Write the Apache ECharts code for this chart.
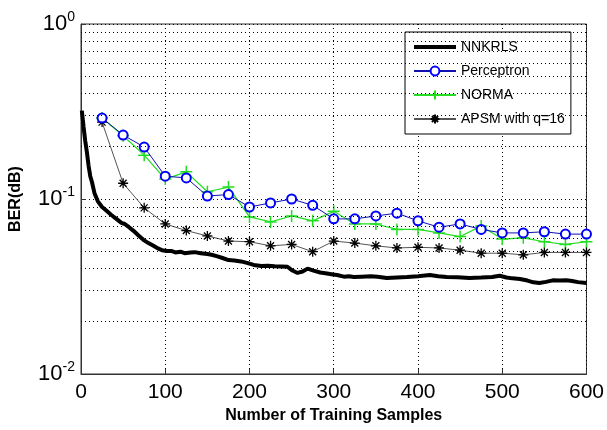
<!DOCTYPE html>
<html>
<head>
<meta charset="utf-8">
<script src="https://cdn.jsdelivr.net/npm/echarts@6/dist/echarts.min.js"></script>
<style>
  html, body { margin: 0; padding: 0; background: #fff; }
  #main { width: 607px; height: 430px; }
</style>
</head>
<body>
<div id="main"></div>
<script>
// training sizes where the marker curves were sampled
var sampleSizes = [25, 50, 75, 100, 125, 150, 175, 200, 225, 250, 275, 300,
  325, 350, 375, 400, 425, 450, 475, 500, 525, 550, 575, 600];

var perceptron = [0.290, 0.232, 0.198, 0.135, 0.132, 0.104, 0.106, 0.090, 0.095, 0.100, 0.092, 0.077,
  0.077, 0.080, 0.083, 0.075, 0.069, 0.072, 0.067, 0.064, 0.064, 0.065, 0.063, 0.063];

var norma = [0.290, 0.230, 0.178, 0.130, 0.143, 0.110, 0.117, 0.079, 0.074, 0.080, 0.075, 0.085,
  0.072, 0.072, 0.067, 0.067, 0.064, 0.061, 0.070, 0.059, 0.060, 0.057, 0.055, 0.057];

var apsm = [0.275, 0.123, 0.089, 0.072, 0.066, 0.0615, 0.0575, 0.057, 0.054, 0.055, 0.050, 0.0575,
  0.056, 0.054, 0.0525, 0.053, 0.0525, 0.051, 0.049, 0.049, 0.048, 0.0495, 0.0495, 0.0495];

var nnkrlsX = [1, 3, 5, 7, 9, 11, 13, 16, 20, 25, 30, 36, 42, 48, 52, 57, 62, 68, 75, 80,
  86, 92, 96, 102, 107, 112, 118, 123, 130, 135, 142, 150, 155, 162, 168, 175, 182, 190, 198, 205,
  214, 222, 230, 238, 245, 251, 257, 263, 269, 276, 284, 292, 299, 304, 312, 318, 324, 333, 344, 352,
  363, 375, 387, 400, 414, 424, 434, 447, 461, 475, 488, 497, 505, 512, 521, 530, 537, 544, 552, 560,
  568, 576, 583, 590, 600];
var nnkrlsY = [0.32, 0.26, 0.215, 0.185, 0.155, 0.135, 0.125, 0.108, 0.097, 0.090, 0.086, 0.081, 0.077, 0.073, 0.072, 0.069, 0.066, 0.062, 0.058, 0.056,
  0.054, 0.052, 0.051, 0.0505, 0.0505, 0.0495, 0.050, 0.049, 0.0495, 0.0497, 0.049, 0.0485, 0.048, 0.047, 0.046, 0.0448, 0.0445, 0.044, 0.043, 0.042,
  0.0414, 0.0415, 0.0413, 0.0412, 0.041, 0.039, 0.0378, 0.0385, 0.040, 0.039, 0.038, 0.0375, 0.037, 0.0368, 0.036, 0.0362, 0.0358, 0.036, 0.0362, 0.036,
  0.0354, 0.0356, 0.0358, 0.0362, 0.0368, 0.0362, 0.0358, 0.0357, 0.0354, 0.0356, 0.0358, 0.0364, 0.0356, 0.0352, 0.0349, 0.0342, 0.0334, 0.0331, 0.0336, 0.0343,
  0.0342, 0.0343, 0.034, 0.0335, 0.0331];

// log minor grid values (2..9 per decade)
var minorGrid = [0.02, 0.03, 0.04, 0.05, 0.06, 0.07, 0.08, 0.09,
  0.2, 0.3, 0.4, 0.5, 0.6, 0.7, 0.8, 0.9];

var seriesNames = ['NNKRLS', 'Perceptron', 'NORMA', 'APSM with q=16'];

function pairs(xs, ys) {
  return xs.map(function (x, i) { return [x, ys[i]]; });
}

var FONT = '"Liberation Sans", Arial, sans-serif';
var plusPath = 'path://M5,0L5,10M0,5L10,5';
var starPath = 'path://M5,0L5,10M0,5L10,5M1.5,1.5L8.5,8.5M1.5,8.5L8.5,1.5';
// thick bar for the legend, tiny corner dots keep the box at full icon size
var thickBar = 'path://M0,0h0.01v0.01h-0.01z M0,3.5h42v4h-42z M41.99,10.99h0.01v0.01h-0.01z';
var dotted = { color: '#000', width: 1, type: [1, 3] };

var chart = echarts.init(document.getElementById('main'), null, { renderer: 'canvas' });

var option = {
  backgroundColor: '#fff',
  animation: false,
  textStyle: { fontFamily: FONT },
  grid: {
    left: 79, right: 20, top: 24, bottom: 56,
    show: true, borderColor: '#333', borderWidth: 1, backgroundColor: '#fff'
  },
  legend: {
    orient: 'vertical',
    left: 405, top: 32,
    padding: [8, 6, 8, 8],
    itemGap: 10,
    itemWidth: 42, itemHeight: 11,
    backgroundColor: '#fff',
    borderColor: '#000', borderWidth: 1,
    textStyle: { fontSize: 14, color: '#000', fontFamily: FONT },
    data: [
      { name: seriesNames[0], icon: thickBar, itemStyle: { color: '#000' } },
      seriesNames[1], seriesNames[2], seriesNames[3]
    ]
  },
  xAxis: {
    type: 'value',
    min: 0, max: 600, interval: 100,
    name: 'Number of Training Samples',
    nameLocation: 'middle', nameGap: 32,
    nameTextStyle: { fontSize: 16, fontWeight: 'bold', color: '#000', fontFamily: FONT },
    axisLine: { lineStyle: { color: '#333' } },
    axisTick: { inside: true, length: 5, lineStyle: { color: '#333' } },
    axisLabel: { fontSize: 21, color: '#000', margin: 8 },
    splitLine: { show: true, lineStyle: dotted }
  },
  yAxis: {
    type: 'log', logBase: 10,
    min: 0.01, max: 1, interval: 1,
    name: 'BER(dB)',
    nameLocation: 'middle', nameGap: 57,
    nameTextStyle: { fontSize: 16, fontWeight: 'bold', color: '#000', fontFamily: FONT },
    axisLine: { lineStyle: { color: '#333' } },
    axisTick: { inside: true, length: 5, lineStyle: { color: '#333' } },
    axisLabel: {
      margin: 6,
      formatter: function (v) {
        var e = Math.round(Math.log(v) / Math.LN10);
        return '{b|10}{s|' + e + '}';
      },
      rich: {
        b: { fontSize: 22, color: '#000', fontFamily: FONT },
        s: { fontSize: 14, color: '#000', fontFamily: FONT, padding: [0, 0, 14, 0] }
      }
    },
    splitLine: { show: true, lineStyle: dotted }
  },
  series: [
    {
      name: seriesNames[0], type: 'line',
      data: pairs(nnkrlsX, nnkrlsY),
      showSymbol: false, symbol: 'none',
      lineStyle: { color: '#000', width: 4 },
      itemStyle: { color: '#000' },
      z: 5,
      markLine: {
        silent: true, symbol: 'none', label: { show: false },
        lineStyle: dotted,
        data: minorGrid.map(function (v) { return { yAxis: v }; })
      }
    },
    {
      name: seriesNames[1], type: 'line',
      data: pairs(sampleSizes, perceptron),
      symbol: 'emptyCircle', symbolSize: 9,
      lineStyle: { color: '#1010b0', width: 1 },
      itemStyle: { color: '#0000ff', borderColor: '#0000ff', borderWidth: 1 },
      z: 4
    },
    {
      name: seriesNames[2], type: 'line',
      data: pairs(sampleSizes, norma),
      symbol: plusPath, symbolSize: 12,
      lineStyle: { color: '#22dd22', width: 1.2 },
      itemStyle: { color: '#22dd22', borderColor: '#22dd22', borderWidth: 1.5 },
      z: 3
    },
    {
      name: seriesNames[3], type: 'line',
      data: pairs(sampleSizes, apsm),
      symbol: starPath, symbolSize: 10,
      lineStyle: { color: '#555', width: 1 },
      itemStyle: { color: '#000', borderColor: '#000', borderWidth: 1.3 },
      z: 3
    }
  ]
};

chart.setOption(option);
</script>
</body>
</html>
